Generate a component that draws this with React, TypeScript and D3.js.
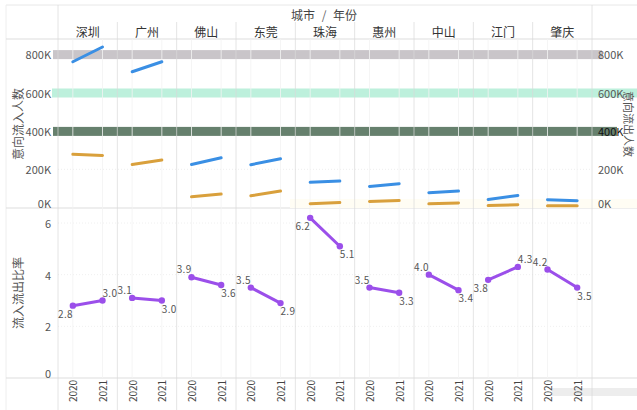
import React from 'react';
import * as d3 from 'd3';

const cities = ['深圳', '广州', '佛山', '东莞', '珠海', '惠州', '中山', '江门', '肇庆'];
const years = ['2020', '2021'];
const inflow2020 = [760000, 708000, 225000, 224000, 132000, 111000, 78000, 43000, 42000];
const inflow2021 = [837000, 760000, 260000, 255000, 139000, 125000, 87000, 64000, 36000];
const outflow2020 = [278000, 225000, 57000, 62000, 21000, 32000, 20000, 11000, 10000];
const outflow2021 = [272000, 248000, 71000, 87000, 27000, 37000, 25000, 15000, 10000];
const ratio2020 = [2.8, 3.1, 3.9, 3.5, 6.2, 3.5, 4.0, 3.8, 4.2];
const ratio2021 = [3.0, 3.0, 3.6, 2.9, 5.1, 3.3, 3.4, 4.3, 3.5];
const countTicks = [0, 200000, 400000, 600000, 800000];
const ratioTicks = [0, 2, 4, 6];

const W = 637;
const H = 410;
const FONT = '"Noto Sans CJK SC", "Noto Sans", sans-serif';
const BLUE = '#3A8FE4';
const ORANGE = '#D9A03C';
const PURPLE = '#9B4FEA';

export default function App() {
  const xCity = d3.scaleBand<string>().domain(cities).range([58, 592]);
  const bw = xCity.bandwidth();
  const xYear = d3.scalePoint<string>().domain(years).range([0, bw]).padding(0.5);
  const yCount = d3.scaleLinear().domain([0, 800000]).range([207.7, 54.1]);
  const yRatio = d3.scaleLinear().domain([0, 6]).range([378, 223]);
  const fmtK = (v: number) => `${v / 1000}K`;
  const line = d3.line<[number, number]>();

  const px = (ci: number, yi: number) => (xCity(cities[ci]) as number) + (xYear(years[yi]) as number);

  const bandStyles = [
    { v: 800000, x0: 53, x1: 602, fill: '#C9C5C9' },
    { v: 600000, x0: 52, x1: 637, fill: '#BDF0DC' },
    { v: 400000, x0: 53, x1: 617, fill: '#66806D' },
  ];

  return (
    <svg width={W} height={H} style={{ position: 'absolute', left: 0, top: 0, background: '#fff' }} fontFamily={FONT}>
      {/* frame lines */}
      <line x1={6} x2={W} y1={5} y2={5} stroke="#e8e8e8" />
      <line x1={6} x2={6} y1={5} y2={H} stroke="#eeeeee" />
      <line x1={6} x2={W} y1={39} y2={39} stroke="#dddddd" />
      <line x1={6} x2={W} y1={208} y2={208} stroke="#dddddd" />
      <line x1={6} x2={W} y1={378} y2={378} stroke="#dddddd" />

      {/* horizontal grid */}
      {countTicks.slice(1).map((t) => (
        <line key={'hc' + t} x1={58} x2={592} y1={yCount(t)} y2={yCount(t)} stroke="#eeeeee" strokeDasharray="1,2" />
      ))}
      {ratioTicks.slice(1).map((t) => (
        <line key={'hr' + t} x1={58} x2={592} y1={yRatio(t)} y2={yRatio(t)} stroke="#f0f0f0" strokeDasharray="1,2" />
      ))}

      {/* artifact bands */}
      {bandStyles.map((b, i) => (
        <rect key={'b' + i} x={b.x0} width={b.x1 - b.x0} y={yCount(b.v) - 4} height={9} fill={b.fill} />
      ))}
      <rect x={290} width={W - 290} y={199} height={9} fill="#FFFDF4" />
      <rect x={552} width={W - 552} y={388} height={8} fill="#EDEDED" />

      {/* vertical grid */}
      {cities.map((c) =>
        years.map((yr) => {
          const x = (xCity(c) as number) + (xYear(yr) as number);
          return <line key={'vy' + c + yr} x1={x} x2={x} y1={39} y2={378} stroke="#f3f3f3" strokeOpacity={0.8} />;
        })
      )}
      {cities.map((c, i) => {
        const x = xCity(c) as number;
        return <line key={'vs' + c} x1={x} x2={x} y1={i === 0 ? 5 : 22} y2={H} stroke="#d8d8d8" strokeOpacity={0.7} />;
      })}
      <line x1={592} x2={592} y1={5} y2={H} stroke="#d8d8d8" strokeOpacity={0.7} />

      {/* header */}
      <text x={303} y={14} textAnchor="middle" dominantBaseline="central" fontSize={12} fill="#444">城市</text>
      <text x={324} y={14} textAnchor="middle" dominantBaseline="central" fontSize={12} fill="#666">/</text>
      <text x={345} y={14} textAnchor="middle" dominantBaseline="central" fontSize={12} fill="#444">年份</text>
      {cities.map((c) => (
        <text key={'h' + c} x={(xCity(c) as number) + bw / 2} y={31} textAnchor="middle" dominantBaseline="central" fontSize={12} fill="#333">
          {c}
        </text>
      ))}

      {/* left count axis */}
      {countTicks.map((t) => (
        <text key={'lc' + t} x={51} y={t === 0 ? yCount(t) - 5 : yCount(t)} textAnchor="end" dominantBaseline="central" fontSize={11} fill="#555">
          {fmtK(t)}
        </text>
      ))}
      {/* right count axis */}
      {countTicks.map((t) => (
        <text key={'rc' + t} x={598} y={t === 0 ? yCount(t) - 5 : yCount(t)} textAnchor="start" dominantBaseline="central" fontSize={11} fill={t === 400000 ? '#111' : '#555'}>
          {fmtK(t)}
        </text>
      ))}
      <text transform={`translate(17,124) rotate(-90)`} textAnchor="middle" dominantBaseline="central" fontSize={12} fill="#555">
        意向流入人数
      </text>
      <text transform={`translate(629,124) rotate(90)`} textAnchor="middle" dominantBaseline="central" fontSize={11} fill="#555">
        意向流出人数
      </text>

      {/* ratio axis */}
      {ratioTicks.map((t) => (
        <text key={'rt' + t} x={51} y={t === 0 ? yRatio(t) - 5 : yRatio(t)} textAnchor="end" dominantBaseline="central" fontSize={11} fill="#555">
          {t}
        </text>
      ))}
      <text transform={`translate(17,293) rotate(-90)`} textAnchor="middle" dominantBaseline="central" fontSize={12} fill="#555">
        流入流出比率
      </text>

      {/* count lines */}
      {cities.map((c, i) => (
        <g key={'cl' + c}>
          <path
            d={line([[px(i, 0), yCount(outflow2020[i])], [px(i, 1), yCount(outflow2021[i])]]) as string}
            stroke={ORANGE}
            strokeWidth={3}
            strokeLinecap="round"
            fill="none"
          />
          <path
            d={line([[px(i, 0), yCount(inflow2020[i])], [px(i, 1), yCount(inflow2021[i])]]) as string}
            stroke={BLUE}
            strokeWidth={3}
            strokeLinecap="round"
            fill="none"
          />
        </g>
      ))}

      {/* ratio lines */}
      {cities.map((c, i) => {
        const v0 = ratio2020[i];
        const v1 = ratio2021[i];
        const x0 = px(i, 0);
        const x1 = px(i, 1);
        const y0 = yRatio(v0);
        const y1 = yRatio(v1);
        const rising = v1 > v0;
        const firstBelow = rising || v0 > 6;
        return (
          <g key={'rl' + c}>
            <path d={line([[x0, y0], [x1, y1]]) as string} stroke={PURPLE} strokeWidth={3} strokeLinecap="round" fill="none" />
            <circle cx={x0} cy={y0} r={3.2} fill={PURPLE} />
            <circle cx={x1} cy={y1} r={3.2} fill={PURPLE} />
            <text x={x0} y={firstBelow ? y0 + 12 : y0 - 4} textAnchor="end" fontSize={10} fill="#555" letterSpacing={0.3}>
              {v0.toFixed(1)}
            </text>
            <text x={x1} y={rising ? y1 - 4 : y1 + 12} textAnchor="start" fontSize={10} fill="#555" letterSpacing={0.3}>
              {v1.toFixed(1)}
            </text>
          </g>
        );
      })}

      {/* year labels */}
      {cities.map((c, i) =>
        years.map((yr, j) => (
          <text key={'yl' + c + yr} transform={`translate(${px(i, j)},391) rotate(-90)`} textAnchor="middle" dominantBaseline="central" fontSize={10} fill="#444">
            {yr}
          </text>
        ))
      )}
    </svg>
  );
}
